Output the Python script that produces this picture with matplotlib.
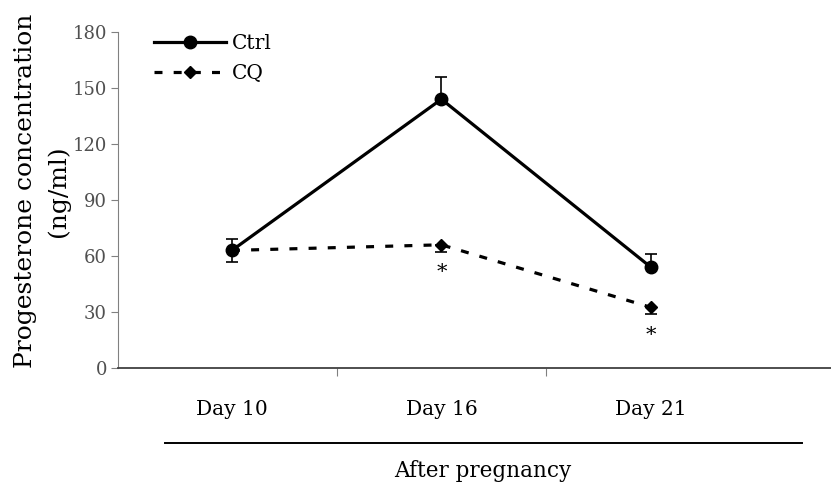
import matplotlib
matplotlib.use("Agg")
import matplotlib.pyplot as plt
from matplotlib.lines import Line2D
import numpy as np

days = ["Day 10", "Day 16", "Day 21"]
ctrl = [63, 144, 54]
ctrl_err = [6, 12, 7]
cq = [63, 66, 32.5]
cq_err = [6, 4, 3.5]
star_y = [51, 17.5]   # positions of the * marks (Day 16, Day 21)
yticks = [0, 30, 60, 90, 120, 150, 180]

plt.rcParams['font.family'] = ['DejaVu Serif']

fig = plt.figure(figsize=(8.31, 4.87), dpi=100)
ax = fig.add_axes([118/831, 1 - 368/487, 1 - 118/831, 336/487])

x = np.arange(len(days))

# Ctrl: upper error bars only, CQ: lower error bars only
ax.errorbar(x, ctrl, yerr=[np.zeros(3), ctrl_err], fmt='none', ecolor='black',
            elinewidth=1.2, capsize=4.5, capthick=1.2, zorder=2)
ax.errorbar(x, cq, yerr=[cq_err, np.zeros(3)], fmt='none', ecolor='black',
            elinewidth=1.2, capsize=4.5, capthick=1.2, zorder=2)
ax.plot(x, ctrl, color='black', lw=2.3, marker='o', ms=9, label='Ctrl', zorder=3)
ax.plot(x, cq, color='black', lw=2.3, ls=(0, (2.5, 3.5)), marker='D', ms=6,
        label='CQ', zorder=3)

for xi, yi in zip(x[1:], star_y):
    ax.text(xi, yi, '*', ha='center', va='center', fontsize=15)

ax.set_xlim(-0.544, 2.86)
ax.set_ylim(0, 180)
ax.set_yticks(yticks)
ax.set_xticks([0.5, 1.5])
ax.set_xticklabels([])
ax.tick_params(axis='y', direction='out', length=5, color='#808080',
               labelcolor='#505050', labelsize=13, pad=3)
ax.tick_params(axis='x', direction='out', length=6, color='#808080')
ax.spines['top'].set_visible(False)
ax.spines['right'].set_visible(False)
ax.spines['left'].set_color('#808080')
ax.spines['bottom'].set_color('#404040')
ax.spines['bottom'].set_linewidth(1.3)

for xi, d in zip(x, days):
    ax.text(xi, -22, d, ha='center', va='center', fontsize=14.5,
            transform=ax.transData, clip_on=False)

fig.text(26/831, 1 - 191/487, 'Progesterone concentration', rotation=90,
         ha='center', va='center', fontsize=18)
fig.text(58/831, 1 - 191/487, '(ng/ml)', rotation=90,
         ha='center', va='center', fontsize=18)

fig.add_artist(Line2D([165/831, 802/831], [1 - 443/487, 1 - 443/487],
                      color='black', lw=1.4))
fig.text(483/831, 1 - 471/487, 'After pregnancy', ha='center', va='center',
         fontsize=15.5)

leg = ax.legend(loc='upper left', bbox_to_anchor=(0.025, 1.047), frameon=False,
                handlelength=3.6, handletextpad=0.25, labelspacing=0.55,
                fontsize=14.5)

fig.savefig('out.png', dpi=100)
